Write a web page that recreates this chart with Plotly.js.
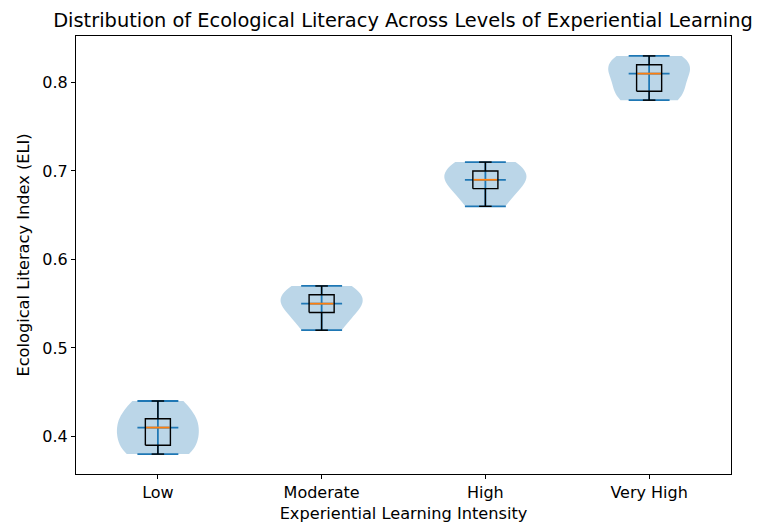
<!DOCTYPE html>
<html>
<head>
<meta charset="utf-8">
<script src="https://cdn.plot.ly/plotly-3.0.1.min.js"></script>
<style>html,body{margin:0;padding:0;background:#fff;}#chart{width:757px;height:525px;}</style>
</head>
<body>
<div id="chart"></div>
<script>
// Data
const categories = ["Low", "Moderate", "High", "Very High"];
const lowValues = [0.38, 0.39, 0.41, 0.42, 0.44];
const moderateValues = [0.52, 0.54, 0.55, 0.56, 0.57];
const highValues = [0.66, 0.68, 0.69, 0.70, 0.71];
const veryHighValues = [0.78, 0.79, 0.81, 0.82, 0.83];
const groups = [lowValues, moderateValues, highValues, veryHighValues];

const C0 = "#1f77b4";
const ORANGE = "#ff7f0e";
const VIOLIN_W = 0.5;
const BOX_W = 0.153;

function quantile(sorted, p) {
  const pos = (sorted.length - 1) * p;
  const lo = Math.floor(pos), hi = Math.ceil(pos);
  return sorted[lo] + (sorted[hi] - sorted[lo]) * (pos - lo);
}
function scottBandwidth(v) {
  const n = v.length;
  const m = v.reduce((a, b) => a + b, 0) / n;
  const s = Math.sqrt(v.reduce((a, b) => a + (b - m) * (b - m), 0) / (n - 1));
  return s * Math.pow(n, -0.2);
}

const traces = [];
// Violin bodies
groups.forEach((vals, i) => {
  traces.push({
    type: "violin",
    x: vals.map(() => i),
    y: vals,
    width: VIOLIN_W,
    scalemode: "width",
    spanmode: "hard",
    bandwidth: scottBandwidth(vals),
    points: false,
    box: {visible: false},
    meanline: {visible: false},
    fillcolor: "rgba(31,119,180,0.3)",
    line: {width: 0, color: "rgba(0,0,0,0)"},
    hoverinfo: "skip",
    showlegend: false
  });
});

// Violin extrema + median lines and center bars
groups.forEach((vals, i) => {
  const s = vals.slice().sort((a, b) => a - b);
  const mn = s[0], mx = s[s.length - 1], med = quantile(s, 0.5);
  const h = VIOLIN_W / 4;
  traces.push({
    type: "scatter", mode: "lines",
    x: [i - h, i + h, null, i - h, i + h, null, i - h, i + h, null, i, i],
    y: [mn, mn, null, mx, mx, null, med, med, null, mn, mx],
    line: {color: C0, width: 1.8},
    hoverinfo: "skip", showlegend: false
  });
});

// Box plots (black) computed from the data
groups.forEach((vals, i) => {
  const s = vals.slice().sort((a, b) => a - b);
  const q1 = quantile(s, 0.25), q3 = quantile(s, 0.75);
  const iqr = q3 - q1;
  const lowW = s.find(v => v >= q1 - 1.5 * iqr);
  const highW = s.slice().reverse().find(v => v <= q3 + 1.5 * iqr);
  const b = BOX_W / 2, c = BOX_W / 4;
  traces.push({
    type: "scatter", mode: "lines",
    x: [i - b, i + b, i + b, i - b, i - b, null, i, i, null, i, i, null, i - c, i + c, null, i - c, i + c],
    y: [q1, q1, q3, q3, q1, null, q1, lowW, null, q3, highW, null, lowW, lowW, null, highW, highW],
    line: {color: "#000000", width: 1.4},
    hoverinfo: "skip", showlegend: false
  });
});

// Box medians (orange)
groups.forEach((vals, i) => {
  const s = vals.slice().sort((a, b) => a - b);
  const med = quantile(s, 0.5);
  const b = BOX_W / 2;
  traces.push({
    type: "scatter", mode: "lines",
    x: [i - b + 0.005, i + b - 0.005],
    y: [med, med],
    line: {color: ORANGE, width: 1.8},
    hoverinfo: "skip", showlegend: false
  });
});

const font = {family: "DejaVu Sans", color: "#000000"};
const layout = {
  width: 757, height: 525,
  margin: {l: 76, r: 26, t: 36, b: 51},
  paper_bgcolor: "#ffffff", plot_bgcolor: "#ffffff",
  font: Object.assign({size: 16}, font),
  title: {text: "Distribution of Ecological Literacy Across Levels of Experiential Learning",
          font: Object.assign({size: 19.4}, font), x: 0.5324, xanchor: "center", y: 0.962, yanchor: "middle"},
  violinmode: "overlay",
  showlegend: false,
  xaxis: {
    range: [-0.5, 3.5],
    tickvals: [0, 1, 2, 3], ticktext: categories,
    showgrid: false, zeroline: false,
    showline: true, linecolor: "#000", linewidth: 1, mirror: true,
    ticks: "outside", ticklen: 4, tickwidth: 1, tickcolor: "#000",
    tickfont: Object.assign({size: 16}, font),
    title: {text: "Experiential Learning Intensity", font: Object.assign({size: 16.2}, font), standoff: 6}
  },
  yaxis: {
    range: [0.3575, 0.8525],
    tickvals: [0.4, 0.5, 0.6, 0.7, 0.8],
    ticktext: ["0.4", "0.5", "0.6", "0.7", "0.8"],
    showgrid: false, zeroline: false,
    showline: true, linecolor: "#000", linewidth: 1, mirror: true,
    ticks: "outside", ticklen: 4, tickwidth: 1, tickcolor: "#000",
    tickfont: Object.assign({size: 16}, font),
    title: {text: "Ecological Literacy Index (ELI)", font: Object.assign({size: 16.2}, font), standoff: 8}
  }
};

Plotly.newPlot("chart", traces, layout, {displayModeBar: false, staticPlot: true});
</script>
</body>
</html>
